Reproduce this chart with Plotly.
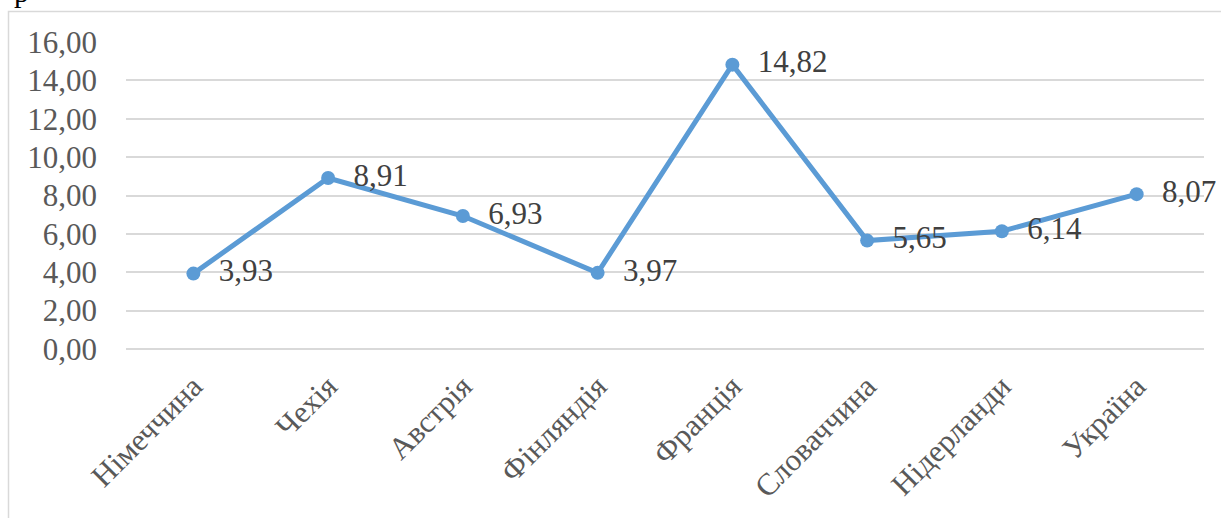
import plotly.graph_objects as go

countries = ["Німеччина", "Чехія", "Австрія", "Фінляндія", "Франція", "Словаччина", "Нідерланди", "Україна"]
values = [3.93, 8.91, 6.93, 3.97, 14.82, 5.65, 6.14, 8.07]
value_labels = ["  " + f"{v:.2f}".replace(".", ",") for v in values]
y_ticks = [0, 2, 4, 6, 8, 10, 12, 14, 16]
y_tick_labels = [f"{v:.2f}".replace(".", ",") for v in y_ticks]

W, H = 1221, 518
L, R, T, B = 126, 17, 42, 169
pw, ph = W - L - R, H - T - B

def px_x(x):
    return (x - L) / pw

def px_y(y):
    return (H - B - y) / ph

fig = go.Figure()
fig.add_trace(go.Scatter(
    x=countries, y=values, mode="lines+markers+text",
    line=dict(color="#5B9BD5", width=5),
    marker=dict(color="#5B9BD5", size=14),
    text=value_labels, textposition="middle right",
    textfont=dict(family="Liberation Serif", size=31, color="#404040"),
    cliponaxis=False, showlegend=False,
))

fig.update_layout(
    width=W, height=H,
    margin=dict(l=L, r=R, t=T, b=B),
    paper_bgcolor="white", plot_bgcolor="white",
    font=dict(family="Liberation Serif", size=31, color="#595959"),
    xaxis=dict(showgrid=False, showline=False, zeroline=False, tickangle=-45,
               ticks="", ticklabelstandoff=12,
               tickfont=dict(size=31, color="#595959"), range=[-0.5, 7.5]),
    yaxis=dict(range=[0, 16], tickvals=y_ticks, ticktext=y_tick_labels,
               showgrid=True, gridcolor="#D9D9D9", gridwidth=1.5,
               zeroline=True, zerolinecolor="#D9D9D9", zerolinewidth=1.5,
               showline=False, ticks="", ticklabelstandoff=28,
               tickfont=dict(size=31, color="#595959")),
    shapes=[dict(type="rect", xref="paper", yref="paper",
                 x0=px_x(8.5), x1=px_x(1240), y0=px_y(540), y1=px_y(11.5),
                 line=dict(color="#D9D9D9", width=1.5), fillcolor="rgba(0,0,0,0)", layer="below")],
    annotations=[dict(text="р", xref="paper", yref="paper", x=px_x(21), y=px_y(-8),
                      xanchor="center", yanchor="middle", showarrow=False,
                      font=dict(family="Liberation Serif", size=30, color="#000000"))],
)

fig.write_html("out.html")
